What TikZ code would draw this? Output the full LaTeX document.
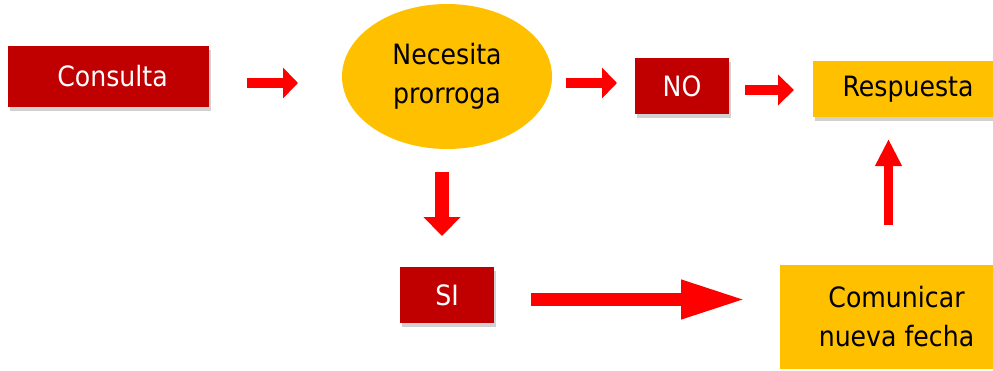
\documentclass[tikz,border=0pt]{standalone}
\usepackage{fontspec}
\setmainfont{DejaVu Sans}[FakeStretch=0.9]
\usetikzlibrary{arrows.meta,shapes.geometric,shadows}
\definecolor{darkred}{HTML}{C00000}
\definecolor{gold}{HTML}{FFC000}
\definecolor{arrred}{HTML}{FF0000}
\tikzset{
  txt/.style={font=\fontsize{28}{39}\selectfont},
  shad/.style={drop shadow={opacity=0.3, fill=black!60, shadow xshift=2pt, shadow yshift=-4pt}},
  redbox/.style={rectangle, fill=darkred, text=white, inner sep=0pt, txt, shad},
  goldbox/.style={rectangle, fill=gold, text=black, inner sep=0pt, txt, align=center},
  blk/.style={draw=arrred, line width=#1},
}
\begin{document}
\begin{tikzpicture}[x=1pt,y=-1pt]
\useasboundingbox (0,0) rectangle (993,370);
% nodes
\node[redbox, minimum width=201pt, minimum height=61pt] (consulta) at (108.5,76.5) {\hspace*{8pt}Consulta};
\node[ellipse, fill=gold, inner sep=0pt, minimum width=210pt, minimum height=145pt, align=center,
      txt] (nec) at (447,76.5) {Necesita\\prorroga};
\node[redbox, minimum width=94pt, minimum height=56pt] (no) at (682,86) {NO};
\node[goldbox, minimum width=180pt, minimum height=56pt, shad] (resp) at (903,89) {\hspace*{10pt}Respuesta};
\node[redbox, minimum width=94pt, minimum height=56pt] (si) at (447,295) {SI};
\node[goldbox, minimum width=213pt, minimum height=104pt] (com) at (886.5,317)
  {\hspace*{20pt}Comunicar\\\hspace*{20pt}nueva fecha};
% arrow end points
\coordinate (a1s) at (247,83);  \coordinate (a1e) at (298,83);
\coordinate (a2s) at (566,83);  \coordinate (a2e) at (617,83);
\coordinate (a3s) at (745,90);  \coordinate (a3e) at (794,90);
\coordinate (a4s) at (442,172); \coordinate (a4e) at (442,236);
\coordinate (a5s) at (531,299.5); \coordinate (a5e) at (746,299.5);
\coordinate (a6s) at (888.5,225); \coordinate (a6e) at (888.5,139);
% arrows
\draw[blk=10pt, -{Triangle[length=15pt,width=30pt,color=arrred]}] (a1s) -- (a1e);
\draw[blk=10pt, -{Triangle[length=15pt,width=30pt,color=arrred]}] (a2s) -- (a2e);
\draw[blk=10pt, -{Triangle[length=16pt,width=30pt,color=arrred]}] (a3s) -- (a3e);
\draw[blk=14pt, -{Triangle[length=19pt,width=36pt,color=arrred]}] (a4s) -- (a4e);
\draw[blk=13pt, -{Triangle[length=65pt,width=36pt,color=arrred]}] (a5s) -- (a5e);
\draw[blk=9pt, -{Triangle[length=27pt,width=25pt,color=arrred]}] (a6s) -- (a6e);
\end{tikzpicture}
\end{document}
